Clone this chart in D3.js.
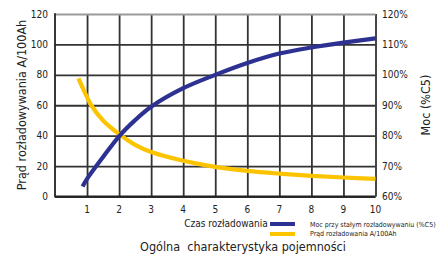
<!DOCTYPE html>
<html><head><meta charset="utf-8">
<script src="https://cdn.jsdelivr.net/npm/d3@7"></script>
<style>
body{margin:0;background:#fff;}
text{font-family:"DejaVu Sans Condensed","Liberation Sans Narrow","Liberation Sans",Arial,sans-serif;font-stretch:condensed;fill:#222;}
</style></head>
<body><svg id="c" width="437" height="257"></svg>
<script>
const xTicks = [1,2,3,4,5,6,7,8,9,10];
const leftTicks = [0,20,40,60,80,100,120];
const rightTicks = [60,70,80,90,100,110,120];
const powerX = [0.86,1,1.5,2,2.5,3,4,5,6,7,8,9,10];
const powerPct = [63.3,65.8,73,79.8,85.1,89.5,95.6,100,103.9,107,109,110.6,112];
const currentX = [0.73,1,1.13,1.5,2,2.5,3,4,5,6,7,8,9,10];
const currentVal = [77.7,65.3,60,50,41,34,29.2,23.5,19.5,16.8,15,13.6,12.5,11.6];

const svg = d3.select("#c");
const L=55,R=375.5,T=14,B=196.5;
const x = d3.scaleLinear().domain([0,10]).range([L,R]);
const yL = d3.scaleLinear().domain([0,120]).range([B,T]);
const yR = d3.scaleLinear().domain([60,120]).range([B,T]);

// grid via axes
const gx = svg.append("g").attr("transform",`translate(0,${B})`)
  .call(d3.axisBottom(x).tickValues(xTicks).tickSize(-(B-T)).tickFormat(""));
const gy = svg.append("g").attr("transform",`translate(${L},0)`)
  .call(d3.axisLeft(yL).tickValues(leftTicks).tickSize(-(R-L)).tickFormat(""));
[gx,gy].forEach(a=>{
  a.select(".domain").remove();
  a.selectAll(".tick line").attr("stroke","#333").attr("stroke-width",1.8);
});
gy.selectAll(".tick line").filter(d=>d===120).attr("stroke","#9a9a9a");
// frame
svg.append("line").attr("x1",L).attr("x2",R).attr("y1",B).attr("y2",B).attr("stroke","#222").attr("stroke-width",1.8);
svg.append("line").attr("x1",L).attr("x2",L).attr("y1",T-0.8).attr("y2",B+0.8).attr("stroke","#222").attr("stroke-width",1.8);

// axes labels
svg.selectAll("text.lt").data(leftTicks).join("text").attr("class","lt")
  .attr("x",48).attr("y",d=>yL(d)+3.5).attr("text-anchor","end")
  .attr("font-size",10).text(d=>d);
svg.selectAll("text.rt").data(rightTicks).join("text").attr("class","rt")
  .attr("x",382).attr("y",d=>yR(d)+3.5).attr("text-anchor","start")
  .attr("font-size",10).text(d=>d+"%");
svg.selectAll("text.xt").data(xTicks).join("text").attr("class","xt")
  .attr("x",d=>x(d)).attr("y",213).attr("text-anchor","middle")
  .attr("font-size",10).text(d=>d);

svg.append("text").attr("transform","translate(26,105) rotate(-90)")
  .attr("text-anchor","middle").attr("font-size",12.5).text("Prąd rozładowywania A/100Ah");
svg.append("text").attr("transform","translate(430,105) rotate(-90)")
  .attr("text-anchor","middle").attr("font-size",12.5).text("Moc (%C5)");

// lines
const line = d3.line().curve(d3.curveCatmullRom.alpha(0.5));
svg.append("path").attr("d",line(currentX.map((d,i)=>[x(d),yL(currentVal[i])])))
  .attr("fill","none").attr("stroke","#fcc400").attr("stroke-width",4.2);
svg.append("path").attr("d",line(powerX.map((d,i)=>[x(d),yR(powerPct[i])])))
  .attr("fill","none").attr("stroke","#2d3192").attr("stroke-width",4.2);

// legend
svg.append("text").attr("x",226).attr("y",227).attr("text-anchor","middle")
  .attr("font-size",10).text("Czas rozładowania");
svg.append("rect").attr("x",270).attr("y",222).attr("width",25).attr("height",4).attr("fill","#2d3192");
svg.append("rect").attr("x",270).attr("y",232).attr("width",25).attr("height",4).attr("fill","#fcc400");
svg.append("text").attr("x",310).attr("y",227).attr("font-size",7).text("Moc przy stałym rozładowywaniu (%C5)");
svg.append("text").attr("x",310).attr("y",236).attr("font-size",7).text("Prąd rozładowania A/100Ah");

svg.append("text").attr("x",243).attr("y",251).attr("text-anchor","middle")
  .attr("font-size",12.5).attr("xml:space","preserve").text("Ogólna  charakterystyka pojemności");
</script></body></html>
